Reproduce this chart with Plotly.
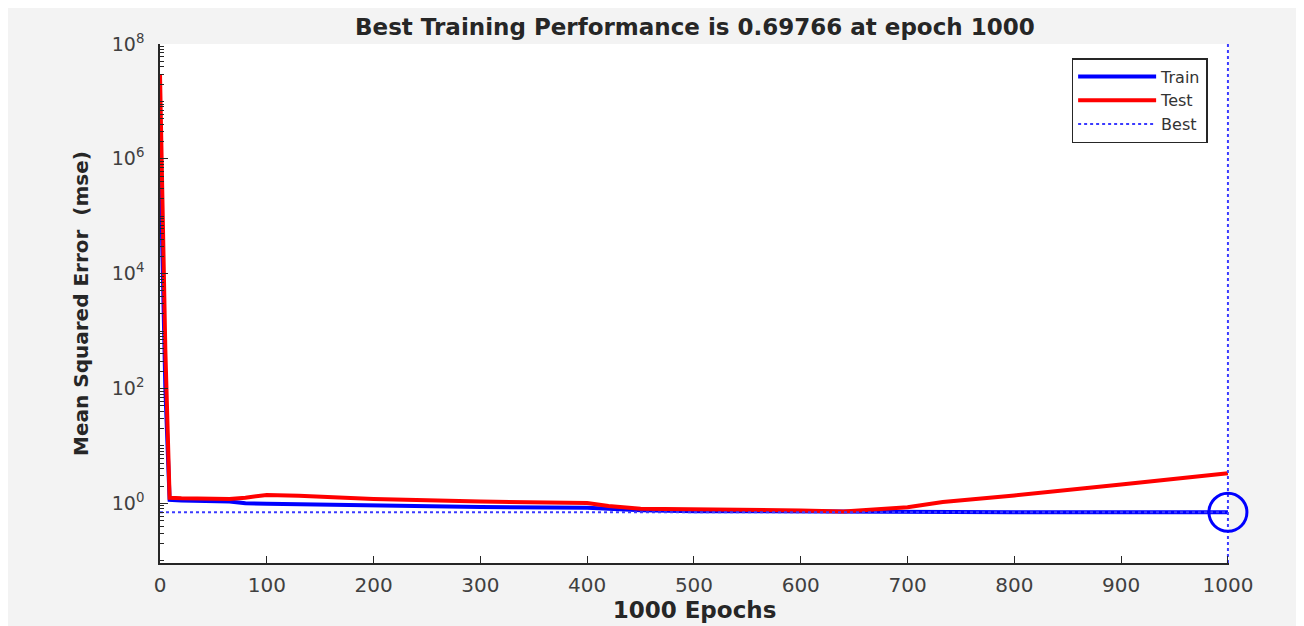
import plotly.graph_objects as go

# ---- data ----
train_epochs = [0, 3, 5, 9, 20, 65, 80, 100, 150, 200, 300, 400, 450, 500, 600, 700, 800, 900, 1000]
train_mse = [2e6, 5e3, 100, 1.15, 1.12, 1.07, 1.0, 0.98, 0.94, 0.91, 0.86, 0.84, 0.76, 0.73, 0.715,
             0.705, 0.70, 0.699, 0.69766]

test_epochs = [0, 2, 5, 9, 20, 65, 80, 100, 130, 200, 300, 400, 420, 450, 500, 600, 640, 700, 733,
               800, 900, 1000]
test_mse = [3e7, 5e5, 470, 1.25, 1.22, 1.19, 1.25, 1.40, 1.36, 1.19, 1.07, 1.01, 0.90, 0.80, 0.79,
            0.75, 0.72, 0.85, 1.05, 1.37, 2.13, 3.35]

best_epoch = 1000
best_perf = 0.69766
x_range = [0, 1001]
y_log_range = [-1.04, 8]

ytick_vals = [1e0, 1e2, 1e4, 1e6, 1e8]
ytick_text = ["10<sup>0</sup>", "10<sup>2</sup>", "10<sup>4</sup>", "10<sup>6</sup>", "10<sup>8</sup>"]
xtick_vals = [0, 100, 200, 300, 400, 500, 600, 700, 800, 900, 1000]

minor_vals = [k * 10 ** d for d in range(-2, 8) for k in range(1, 10)]

TXT = "#262626"
FONT = "DejaVu Sans"

fig = go.Figure()
fig.add_trace(go.Scatter(x=train_epochs, y=train_mse, mode="lines", name="Train",
                         line=dict(color="#0000ff", width=4)))
fig.add_trace(go.Scatter(x=test_epochs, y=test_mse, mode="lines", name="Test",
                         line=dict(color="#ff0000", width=4)))
fig.add_trace(go.Scatter(
    x=[x_range[0], best_epoch, None, best_epoch, best_epoch],
    y=[best_perf, best_perf, None, 10 ** y_log_range[0], 10 ** y_log_range[1]],
    mode="lines", name="Best", line=dict(color="#3b3bff", width=2, dash="dot")))
fig.add_trace(go.Scatter(x=[best_epoch], y=[best_perf], mode="markers", showlegend=False,
                         cliponaxis=False,
                         marker=dict(symbol="circle-open", size=38, color="#0000ff",
                                     line=dict(width=3, color="#0000ff"))))

# the page adds an 8px body margin, so the figure is sized to fill the rest of the window
fig.update_layout(
    width=1296, height=618,
    margin=dict(l=152, r=75, t=36, b=63, autoexpand=False),
    paper_bgcolor="#f3f3f3", plot_bgcolor="#ffffff",
    font=dict(family=FONT, color=TXT),
    title=dict(text="<b>Best Training Performance is 0.69766 at epoch 1000</b>",
               x=0.530, xanchor="center", y=1 - 19 / 618, yanchor="middle",
               font=dict(size=23, color=TXT, family=FONT)),
    showlegend=True,
    legend=dict(x=0.98, xanchor="right", y=0.973, yanchor="top",
                bgcolor="#ffffff", bordercolor="#262626", borderwidth=1.5,
                font=dict(size=16, color="#333333", family=FONT),
                itemwidth=78, tracegroupgap=0),
)

fig.update_xaxes(
    range=x_range, tickvals=xtick_vals, ticks="inside", ticklen=7, tickwidth=1.2,
    tickcolor=TXT, showline=True, linecolor=TXT, linewidth=1.5, showgrid=False, zeroline=False,
    tickfont=dict(size=20, color="#404040", family=FONT), ticklabelstandoff=3,
    title=dict(text="<b>1000 Epochs</b>", font=dict(size=23, color=TXT, family=FONT), standoff=0),
    mirror=False, automargin=False,
)
fig.update_yaxes(
    type="log", range=y_log_range, tickmode="array", tickvals=ytick_vals, ticktext=ytick_text,
    ticks="inside", ticklen=8, tickwidth=1.2, tickcolor=TXT,
    showline=True, linecolor=TXT, linewidth=1.5, showgrid=False, zeroline=False,
    tickfont=dict(size=19, color="#404040", family=FONT), ticklabelstandoff=10,
    minor=dict(tickmode="array", tickvals=minor_vals, ticks="inside", ticklen=4,
               tickcolor=TXT, tickwidth=1, showgrid=False),
    title=dict(text="<b>Mean Squared Error \u00a0(mse)</b>", font=dict(size=20, color=TXT, family=FONT),
               standoff=18),
    automargin=False,
)

fig.write_html("out.html")
